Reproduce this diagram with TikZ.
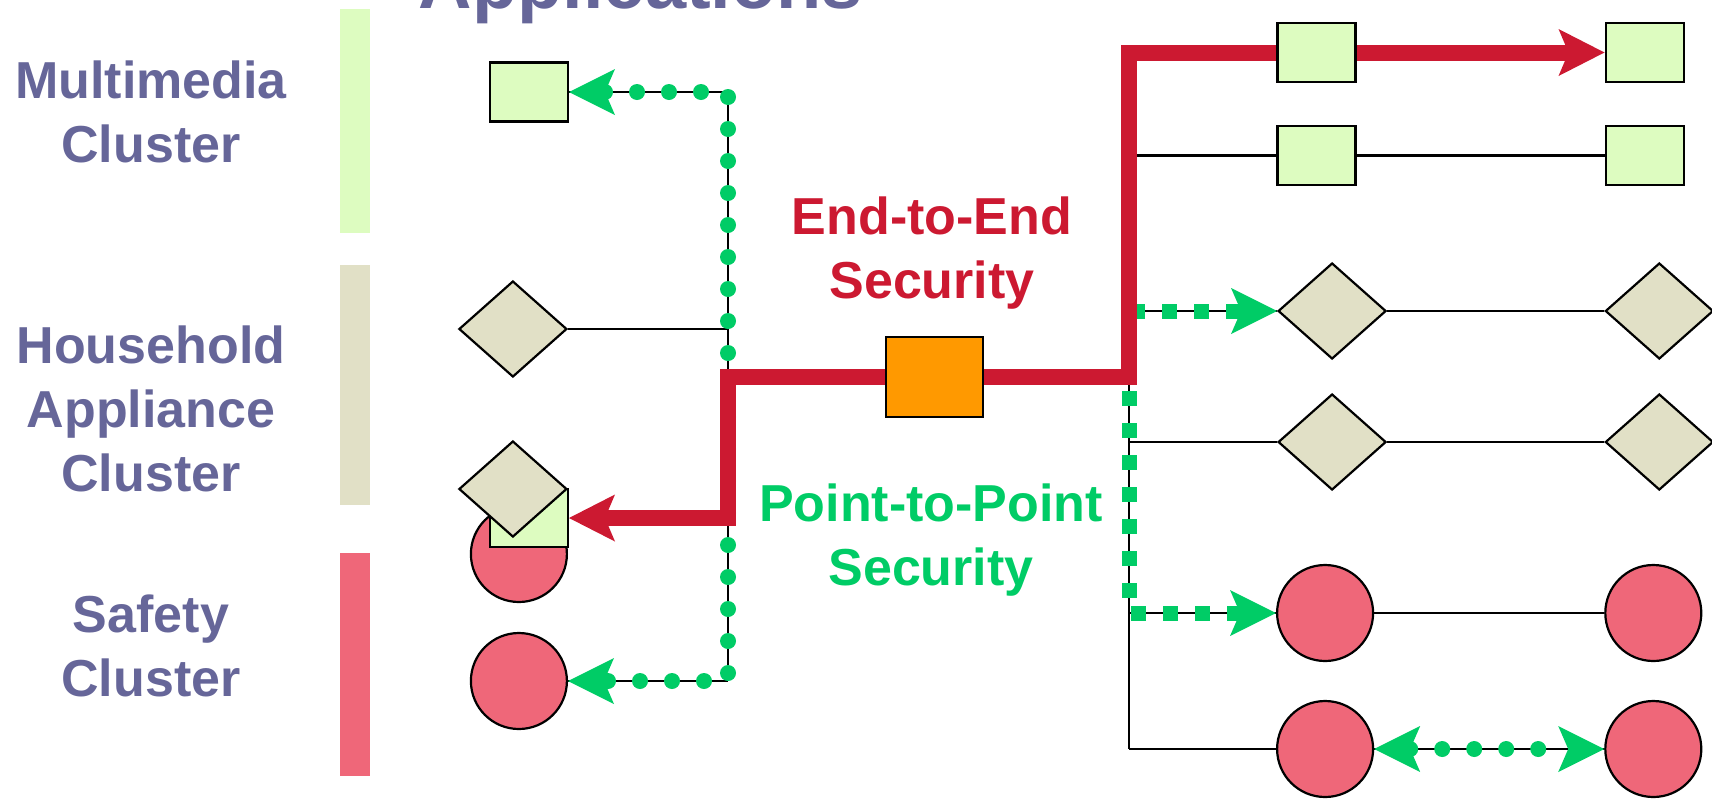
\documentclass[tikz,border=0pt]{standalone}
\usepackage{fontspec}
\setmainfont{Liberation Sans}
\usetikzlibrary{positioning, arrows.meta, shapes.geometric, backgrounds}

\definecolor{lblgray}{HTML}{666699}
\definecolor{mmgreen}{HTML}{DDFCC0}
\definecolor{hhbeige}{HTML}{E1E0C6}
\definecolor{sfred}{HTML}{EF6779}
\definecolor{secred}{HTML}{CC1931}
\definecolor{ptpgreen}{HTML}{00CC66}
\definecolor{ecuorange}{HTML}{FF9900}

\begin{document}
\begin{tikzpicture}[x=1pt, y=-1pt]
		\tikzset{
			redtip/.tip={Stealth[length=46pt, width=47pt, inset=10pt, line width=0pt]},
			greentip/.tip={Stealth[length=46pt, width=46pt, inset=10pt, line width=0pt]},
			sq/.style={draw, line width=2.5pt, fill=mmgreen, minimum width=78pt, minimum height=59pt, inner sep=0pt},
			dm/.style={draw, diamond, line width=2.2pt, fill=hhbeige, minimum width=108pt, minimum height=96pt, inner sep=0pt},
			ci/.style={draw, circle, line width=2.2pt, fill=sfred, minimum size=96pt, inner sep=0pt},
			lbl/.style={font=\fontsize{52}{64}\selectfont\bfseries, align=center, anchor=base, inner sep=0pt},
			link/.style={draw, line width=2.2pt},
			e2e/.style={draw=secred, line width=16pt, arrows={redtip-redtip}},
			ptpdot/.style={draw=ptpgreen, line width=16pt, line cap=round, dash pattern=on 0pt off 32pt, arrows={greentip-greentip}},
			ptpsq/.style={draw=ptpgreen, line width=15pt, dash pattern=on 15pt off 17pt, arrows={greentip-greentip}}
		}
		\useasboundingbox (0,0) rectangle (1712,801);

		% Title (cut at the top)
		\node[font=\fontsize{74}{80}\selectfont\bfseries, text=lblgray, anchor=base, inner sep=0pt] (title) at (641,8) {Applications};

		% Cluster bars and labels (anchor is on the last line)
		\fill[mmgreen] (340,9) rectangle (370,233);
		\fill[hhbeige] (340,265) rectangle (370,505);
		\fill[sfred] (340,553) rectangle (370,776);
		\node[lbl, text=lblgray] (lblmm) at (151,162) {Multimedia\\Cluster};
		\node[lbl, text=lblgray] (lblhh) at (151,491) {Household\\Appliance\\Cluster};
		\node[lbl, text=lblgray] (lblsf) at (151,696) {Safety\\Cluster};

		% Left column
		\node[sq, anchor=east] (mmL) at (569,92) {};
		\node[dm, anchor=east] (hhL) at (568,329) {};
		\node[ci, anchor=east] (stCi) at (568,554) {};
		\node[sq, anchor=east, minimum height=58pt] (stSq) at (569,518) {};
		\node[dm, anchor=east] (stDm) at (568,489) {};
		\node[ci, anchor=east] (sfL) at (568,681) {};

		% Gateway
		\node[sq, fill=ecuorange, minimum width=97pt, minimum height=80pt] (ecu) at (934.5,377) {};

		% Right column
		\node[sq, anchor=west] (mmA) at (1276,52.5) {};
		\node[sq, right=248pt of mmA] (mmB) {};
		\node[sq, anchor=west] (mmC) at (1276,155.5) {};
		\node[sq, right=248pt of mmC] (mmD) {};
		\node[dm, anchor=west] (hhA) at (1277,311) {};
		\node[dm, right=217pt of hhA] (hhB) {};
		\node[dm, anchor=west] (hhC) at (1277,442) {};
		\node[dm, right=217pt of hhC] (hhD) {};
		\node[ci, anchor=west] (sfA) at (1276,613) {};
		\node[ci, right=230pt of sfA] (sfB) {};
		\node[ci, anchor=west] (sfC) at (1276,749) {};
		\node[ci, right=230pt of sfC] (sfD) {};

		% Bus corners
		\coordinate (ltop) at (728,92);
		\coordinate (lbot) at (728,681);
		\coordinate (rtop) at (1129,52.5);
		\coordinate (rbot) at (1129,749);

		% Security texts
		\node[lbl, text=secred] (e2etext) at (932,298) {End-to-End\\Security};
		\node[lbl, text=ptpgreen] (ptptext) at (931,585) {Point-to-Point\\Security};

		\begin{pgfonlayer}{background}
		% Wiring
		\draw[link] (ltop) -- (lbot);
		\draw[link] (ltop) -- (mmL.east);
		\draw[link] (hhL.east) -- (ltop |- hhL);
		\draw[link] (lbot) -- (sfL.east);
		\draw[link] (rtop) -- (rbot);
		\draw[link] (rtop |- mmC) -- (mmC.west);
		\draw[link] (mmC) -- (mmD);
		\draw[link] (rtop |- hhA) -- (hhA.west);
		\draw[link] (hhA) -- (hhB);
		\draw[link] (rtop |- hhC) -- (hhC.west);
		\draw[link] (hhC) -- (hhD);
		\draw[link] (rtop |- sfA) -- (sfA.west);
		\draw[link] (sfA) -- (sfB);
		\draw[link] (rbot) -- (sfC.west);
		\draw[link] (sfC) -- (sfD);

		% Point-to-point security
		\draw[ptpdot] (mmL.east) -- (ltop) -- (lbot) -- (sfL.east);
		\draw[ptpsq] (hhA.west) -- (rtop |- hhA) -- (rtop |- sfA) -- (sfA.west);
		\draw[ptpdot] (sfC) -- (sfD);

		% End-to-end security
		\draw[e2e] (stSq.east) -| (ltop |- ecu) -- (rtop |- ecu) |- (mmB.west);
		\end{pgfonlayer}
	\end{tikzpicture}
\end{document}
